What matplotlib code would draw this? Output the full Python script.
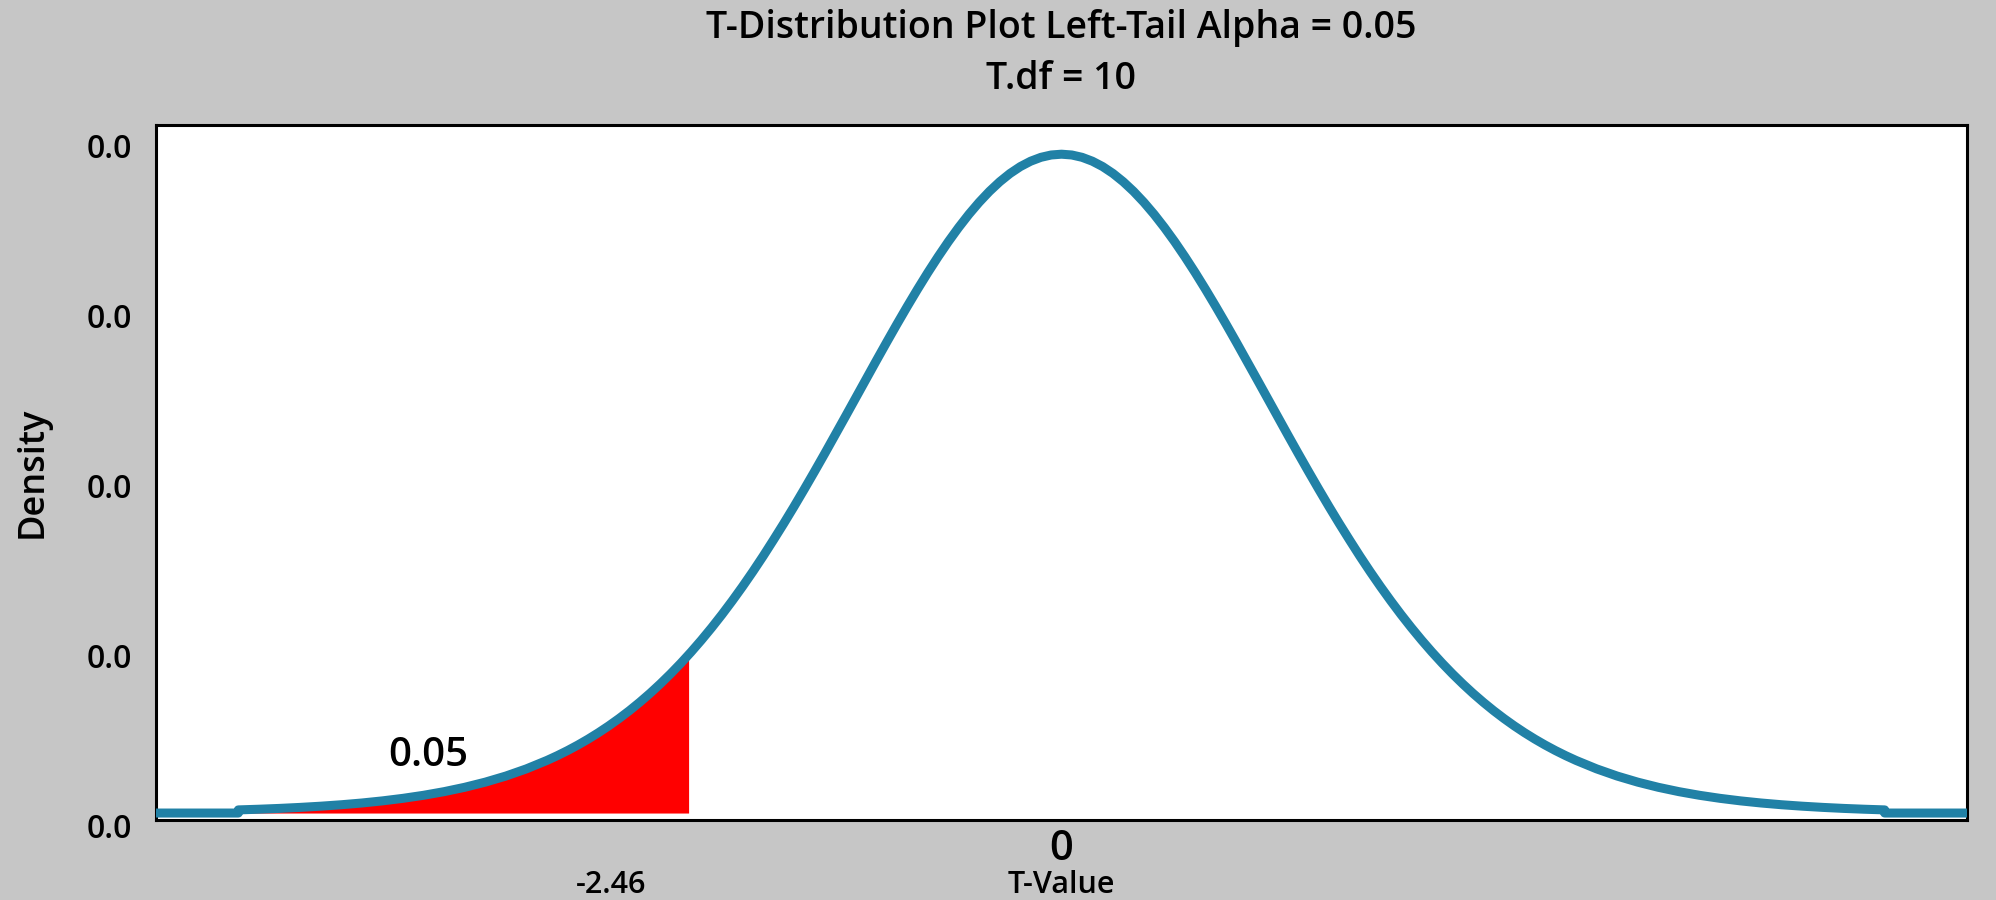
import matplotlib
import matplotlib.pyplot as plt
import matplotlib.transforms as mtransforms

matplotlib.use("Agg")

## Data (density curve, right half; curve is symmetric)
t_half = [0.0, 0.05, 0.1, 0.15, 0.2, 0.25, 0.3, 0.35, 0.4, 0.45,
          0.5, 0.55, 0.6, 0.65, 0.7, 0.75, 0.8, 0.85, 0.9, 0.95,
          1.0, 1.05, 1.1, 1.15, 1.2, 1.25, 1.3, 1.35, 1.4, 1.45,
          1.5, 1.55, 1.6, 1.65, 1.7, 1.75, 1.8, 1.85, 1.9, 1.95,
          2.0, 2.05, 2.1, 2.15, 2.2, 2.25, 2.3, 2.35, 2.4, 2.45,
          2.5, 2.6, 2.7, 2.8, 2.9, 3.0, 3.1, 3.2, 3.3, 3.4,
          3.5, 3.6, 3.7, 3.8, 3.9, 4.0]
dens_half = [0.38810, 0.38764, 0.38626, 0.38397, 0.38080, 0.37676, 0.37188, 0.36622, 0.35980, 0.35268,
             0.34490, 0.33654, 0.32763, 0.31826, 0.30846, 0.29832, 0.28790, 0.27724, 0.26643, 0.25551,
             0.24454, 0.23358, 0.22267, 0.21186, 0.20121, 0.19074, 0.18047, 0.17048, 0.16079, 0.15130,
             0.14218, 0.13341, 0.12499, 0.11691, 0.10920, 0.10185, 0.09486, 0.08823, 0.08196, 0.07604,
             0.07045, 0.06521, 0.06028, 0.05567, 0.05135, 0.04732, 0.04356, 0.04006, 0.03681, 0.03380,
             0.03101, 0.02603, 0.02179, 0.01820, 0.01516, 0.01260, 0.01045, 0.00866, 0.00716, 0.00591,
             0.00488, 0.00403, 0.00332, 0.00273, 0.00225, 0.00185]
crit_t = -1.812
crit_density = 0.09324
alpha = 0.05
df = 10
crit_label = "-2.46"

x_range = [-4.4, 4.4]
y_ticks = [0.0, 0.1, 0.2, 0.3, 0.4]
y_tick_labels = ["0.0", "0.0", "0.0", "0.0", "0.0"]
x_ticks = [0]
x_tick_labels = ["0"]

t_values = [-t for t in reversed(t_half[1:])] + t_half
density = list(reversed(dens_half[1:])) + dens_half

## Style
BG = "#c6c6c6"
LINE = "#2181a6"
plt.rcParams["font.family"] = ["Open Sans", "DejaVu Sans"]
plt.rcParams["font.weight"] = "semibold"
plt.rcParams["axes.labelweight"] = "semibold"

fig = plt.figure(figsize=(19.96, 9.0), dpi=100, facecolor=BG)
ax = fig.add_axes([156 / 1996, 80 / 900, 1811 / 1996, 695 / 900])
ax.set_facecolor("white")

# shaded left tail
tail_t = [t for t in t_values if t <= crit_t] + [crit_t]
tail_d = [d for t, d in zip(t_values, density) if t <= crit_t] + [crit_density]
ax.fill_between(tail_t, 0, tail_d, color="red", linewidth=0, zorder=2)

# curve, running flat along zero out to the axis edges
line_t = [x_range[0], t_values[0]] + t_values + [t_values[-1], x_range[1]]
line_d = [0.0, 0.0] + density + [0.0, 0.0]
ax.plot(line_t, line_d, color=LINE, lw=6.5, solid_joinstyle="round", zorder=3)

ax.set_xlim(x_range)
ax.set_ylim(-0.0041, 0.4053)

ax.set_yticks(y_ticks)
ax.set_yticklabels(y_tick_labels, fontsize=23, fontweight="semibold")
ax.set_xticks(x_ticks)
ax.set_xticklabels(x_tick_labels, fontsize=30, fontweight="semibold")
ax.tick_params(axis="both", length=0)
ax.tick_params(axis="y", pad=17)
ax.tick_params(axis="x", pad=6)
shift = mtransforms.ScaledTranslation(0, -12 / 100, fig.dpi_scale_trans)
for lbl in ax.get_yticklabels():
    lbl.set_transform(lbl.get_transform() + shift)

for s in ax.spines.values():
    s.set_color("black")
    s.set_linewidth(2.2)

ax.set_xlabel("T-Value", fontsize=22, fontweight="semibold", labelpad=0)
ax.set_ylabel("Density", fontsize=26, fontweight="semibold", va="center")
ax.yaxis.set_label_coords(33 / 1996, (900 - 472) / 900, transform=fig.transFigure)

ax.text(-3.078, 0.0336, f"{alpha}", fontsize=29, ha="center", va="center", zorder=4)
ax.annotate(crit_label, xy=(-2.19, 15 / 900), xycoords=("data", "figure fraction"),
            fontsize=22, ha="center", va="center")

fig.text(1061.5 / 1996, 1 - 28 / 900, f"T-Distribution Plot Left-Tail Alpha = {alpha}",
         fontsize=27, ha="center", va="center")
fig.text(1061.5 / 1996, 1 - 79 / 900, f"T.df = {df}", fontsize=27, ha="center", va="center")

fig.savefig("out.png", dpi=100, facecolor=BG)
